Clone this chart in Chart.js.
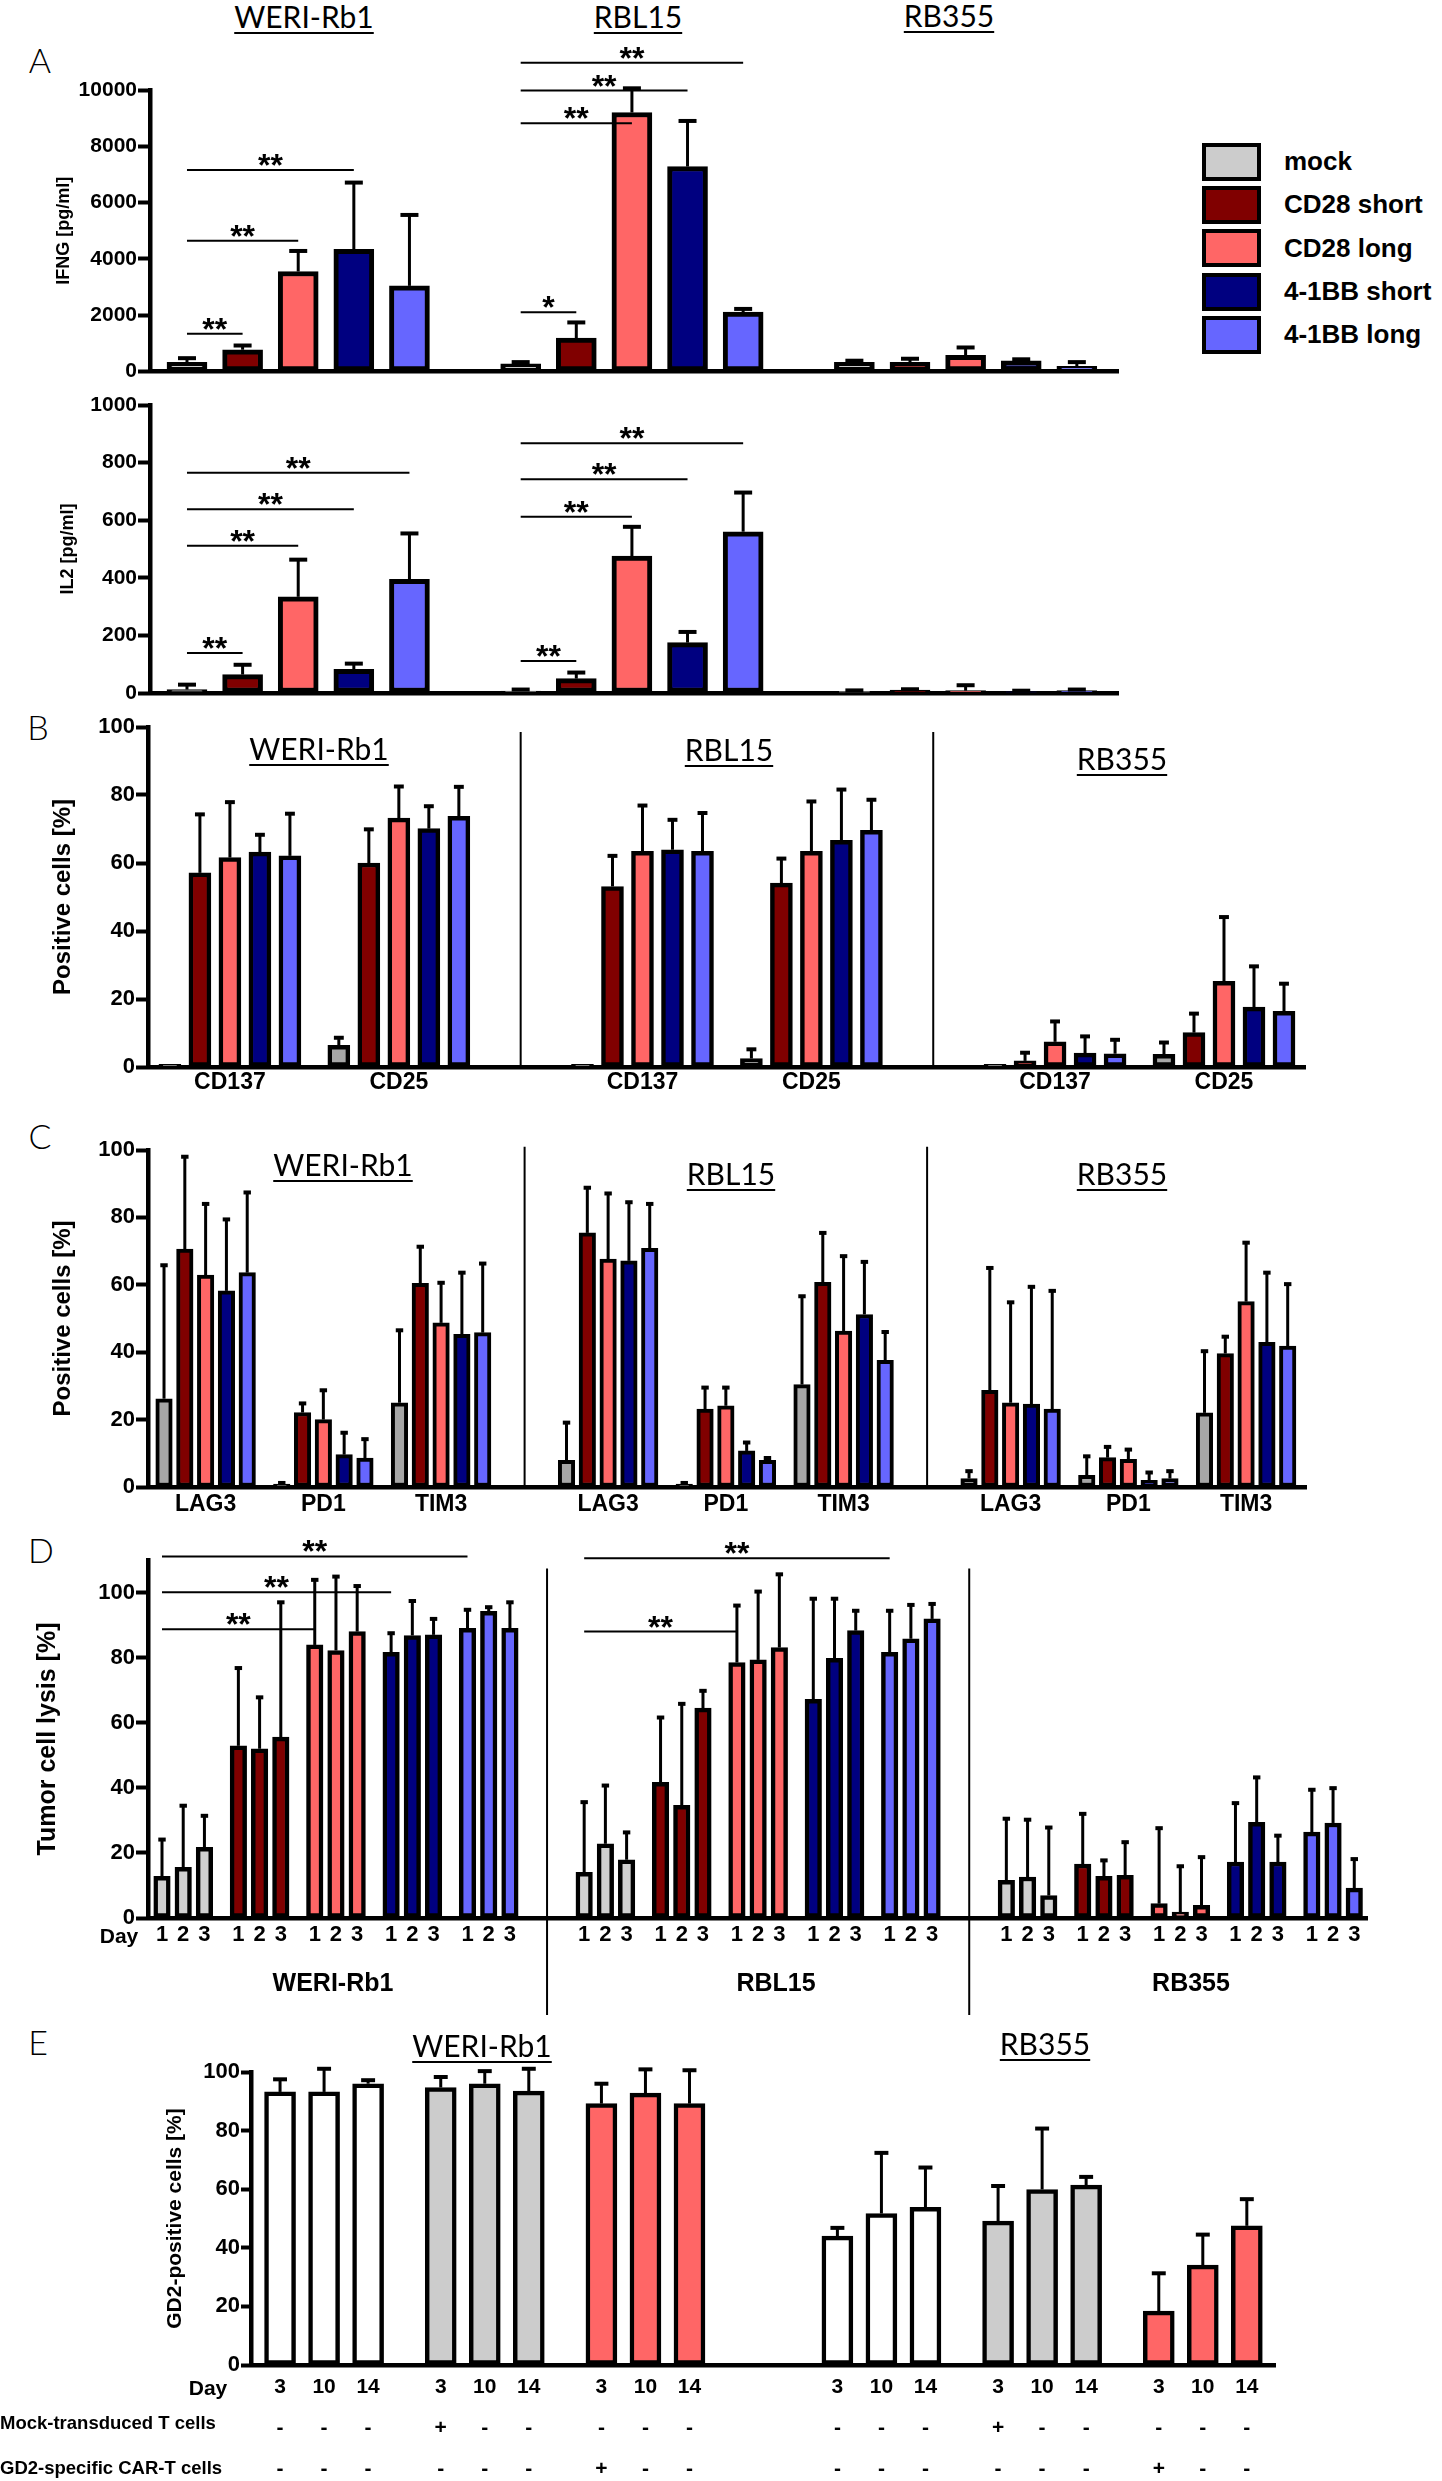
<!DOCTYPE html>
<html lang="en">
<head>
<meta charset="UTF-8">
<title>CAR-T cells against retinoblastoma cell lines</title>
<script src="https://cdn.jsdelivr.net/npm/chart.js"></script>
<style>
  body {
    margin: 0;
    background: #fff;
    width: 1442px;
    height: 2481px;
    position: relative;
    overflow: hidden;
    font-family: 'Liberation Sans', Arial, sans-serif;
    color: #000;
  }
  canvas { position: absolute; left: 0; }
  .t { position: absolute; transform: translate(-50%, -50%); white-space: nowrap; line-height: 1; }
  .tl { position: absolute; transform: translate(0, -50%); white-space: nowrap; line-height: 1; }
  .cell {
    font-family: Lato, 'Liberation Sans', sans-serif;
    font-size: 30px;
    text-decoration: underline;
    text-decoration-thickness: 2px;
    text-underline-offset: 4px;
  }
  .letter { font-family: Lato, 'Liberation Sans', sans-serif; font-weight: 300; font-size: 34px; }
  .lab { font-weight: bold; }
  #legend { position: absolute; left: 1202px; top: 140px; }
  #legend div { display: flex; align-items: center; height: 43.3px; font-weight: bold; font-size: 26px; }
  #legend span { box-sizing: border-box; width: 59px; height: 38px; border: 4px solid #000; margin-right: 23px; }
</style>
</head>
<body>
  <div class="t cell" style="left:304px; top:16px">WERI-Rb1</div>
  <div class="t cell" style="left:638px; top:16px">RBL15</div>
  <div class="t cell" style="left:949px; top:15px">RB355</div>

  <div class="t letter" style="left:40px; top:60px">A</div>
  <div class="t letter" style="left:38px; top:727px">B</div>
  <div class="t letter" style="left:40px; top:1136px">C</div>
  <div class="t letter" style="left:41px; top:1550px">D</div>
  <div class="t letter" style="left:38px; top:2042px">E</div>

  <div id="legend"></div>

  <canvas id="ifngChart"></canvas>
  <canvas id="il2Chart"></canvas>
  <canvas id="activationChart"></canvas>
  <canvas id="exhaustionChart"></canvas>
  <canvas id="lysisChart"></canvas>
  <canvas id="gd2Chart"></canvas>

  <div class="t cell" style="left:319px; top:748px">WERI-Rb1</div>
  <div class="t cell" style="left:729px; top:749px">RBL15</div>
  <div class="t cell" style="left:1122px; top:758px">RB355</div>

  <div class="t cell" style="left:343px; top:1164px">WERI-Rb1</div>
  <div class="t cell" style="left:731px; top:1173px">RBL15</div>
  <div class="t cell" style="left:1122px; top:1173px">RB355</div>

  <div class="t lab" style="left:119px; top:1935px; font-size:21px">Day</div>
  <div class="t lab" style="left:333px; top:1982px; font-size:25px">WERI-Rb1</div>
  <div class="t lab" style="left:776px; top:1982px; font-size:25px">RBL15</div>
  <div class="t lab" style="left:1191px; top:1982px; font-size:25px">RB355</div>

  <div class="t cell" style="left:482px; top:2045px">WERI-Rb1</div>
  <div class="t cell" style="left:1045px; top:2043px">RB355</div>

  <div class="t lab" style="left:208px; top:2387px; font-size:21px">Day</div>
  <div class="tl lab" style="left:0px; top:2423px; font-size:18.5px">Mock-transduced T cells</div>
  <div class="tl lab" style="left:0px; top:2468px; font-size:18.5px">GD2-specific CAR-T cells</div>

<script>
const cellLines = ['WERI-Rb1', 'RBL15', 'RB355'];
const carSeries = ['mock', 'CD28 short', 'CD28 long', '4-1BB short', '4-1BB long'];

// A: cytokines [pg/ml], rows = carSeries, columns = cellLines
const ifngValues = [
    [320, 270, 320],
    [770, 1180, 320],
    [3550, 9200, 570],
    [4340, 7280, 380],
    [3040, 2110, 180]
];
const ifngErrors = [
    [150, 60, 60],
    [150, 560, 130],
    [730, 860, 280],
    [2370, 1620, 50],
    [2520, 110, 150]
];
const ifngTicks = [0, 2000, 4000, 6000, 8000, 10000];
// [from series, to series, column, height, label]
const ifngSig = [
    [0, 1, 0, 1340, '**'], [0, 2, 0, 4640, '**'], [0, 3, 0, 7160, '**'],
    [0, 1, 1, 2100, '*'], [0, 2, 1, 8820, '**'], [0, 3, 1, 9980, '**'], [0, 4, 1, 10970, '**']
];

const il2Values = [
    [12, 7, 6],
    [64, 50, 10],
    [334, 475, 8],
    [82, 175, 5],
    [395, 560, 8]
];
const il2Errors = [
    [17, 5, 3],
    [34, 21, 3],
    [129, 102, 19],
    [20, 37, 3],
    [159, 136, 4]
];
const il2Ticks = [0, 200, 400, 600, 800, 1000];
const il2Sig = [
    [0, 1, 0, 139, '**'], [0, 2, 0, 511, '**'], [0, 3, 0, 638, '**'], [0, 4, 0, 765, '**'],
    [0, 1, 1, 111, '**'], [0, 2, 1, 612, '**'], [0, 3, 1, 742, '**'], [0, 4, 1, 867, '**']
];

// B: activation markers, columns = cell line x marker
const activationMarkers = ['CD137', 'CD25'];
const activationValues = [
    [0.8, 6.4, 0.8, 2.5, 0.8, 3.7],
    [57.1, 60.0, 53.1, 54.1, 1.8, 10.1],
    [61.6, 73.2, 63.4, 63.4, 7.4, 25.2],
    [63.2, 70.1, 63.9, 66.7, 4.1, 17.6],
    [62.1, 73.7, 63.4, 69.6, 3.9, 16.4]
];
const activationErrors = [
    [0, 2.2, 0, 2.7, 0, 3.5],
    [17.2, 9.9, 9.0, 7.2, 2.4, 5.6],
    [16.3, 9.3, 13.5, 14.7, 6.0, 18.9],
    [5.1, 6.6, 8.8, 14.9, 4.9, 12.0],
    [12.4, 8.7, 11.3, 9.0, 4.1, 8.1]
];

// C: exhaustion markers, columns = cell line x marker
const exhaustionMarkers = ['LAG3', 'PD1', 'TIM3'];
const exhaustionValues = [
    [26.2, 0.9, 25.0, 7.9, 0.9, 30.4, 2.5, 3.5, 22.0],
    [70.6, 22.1, 60.4, 75.4, 23.1, 60.7, 28.7, 8.7, 39.6],
    [62.9, 20.0, 48.7, 67.6, 24.1, 46.3, 25.0, 8.2, 55.0],
    [58.2, 9.6, 45.3, 67.1, 10.7, 51.2, 24.6, 2.0, 42.9],
    [63.6, 8.6, 45.8, 70.8, 7.9, 37.6, 23.1, 2.5, 41.8]
];
const exhaustionErrors = [
    [39.6, 0.3, 21.5, 11.2, 0.3, 26.2, 2.2, 5.6, 18.3],
    [27.4, 2.7, 10.9, 13.4, 6.4, 14.7, 36.3, 3.2, 5.0],
    [21.1, 8.7, 11.9, 19.5, 5.4, 22.2, 29.8, 2.9, 17.5],
    [21.2, 6.5, 18.3, 17.4, 2.5, 15.6, 34.8, 2.3, 20.7],
    [23.8, 5.6, 20.5, 13.2, 0.7, 8.4, 35.1, 2.2, 18.4]
];
const percentTicks = [0, 20, 40, 60, 80, 100];

// D: tumor cell lysis, columns = cell line x day
const lysisDays = ['1', '2', '3'];
const lysisValues = [
    [12.8, 15.6, 21.7, 14.0, 22.8, 17.9, 11.6, 12.6, 6.9],
    [52.9, 52.0, 55.6, 41.7, 34.6, 64.5, 16.6, 12.8, 13.1],
    [83.9, 82.2, 88.0, 78.5, 79.3, 83.1, 4.4, 1.8, 3.9],
    [81.6, 86.8, 87.0, 67.2, 79.8, 88.3, 17.2, 29.4, 17.2],
    [89.0, 94.2, 89.0, 81.6, 85.8, 91.9, 26.4, 29.2, 9.2]
];
const lysisErrors = [
    [11.3, 18.9, 9.7, 21.6, 17.9, 8.4, 18.9, 17.6, 20.9],
    [23.9, 15.8, 41.4, 19.9, 31.2, 5.3, 15.4, 4.9, 10.2],
    [20.0, 22.7, 14.0, 17.5, 21.0, 22.5, 23.2, 14.1, 14.8],
    [5.9, 10.6, 4.9, 30.9, 18.3, 6.1, 18.1, 13.8, 8.1],
    [5.7, 1.3, 8.0, 12.8, 10.4, 4.6, 13.0, 10.7, 8.9]
];
const lysisSig = [
    [0, 4, 0, 111.1, '**'], [0, 3, 0, 100.1, '**'], [0, 2, 0, 88.7, '**'],
    [0, 4, 3, 110.5, '**'], [0, 2, 3, 88.0, '**']
];

// E: GD2-positive tumor cells, rows = untreated / mock T cells / CAR-T cells, columns = cell line x day
const gd2Lines = ['WERI-Rb1', 'RB355'];
const gd2Days = ['3', '10', '14'];
const gd2Values = [
    [93.2, 93.2, 96.0, 44.0, 51.7, 53.8],
    [94.7, 96.0, 93.5, 49.1, 59.9, 61.4],
    [89.2, 92.8, 89.2, 18.4, 34.1, 47.5]
];
const gd2Errors = [
    [4.3, 7.9, 1.2, 2.8, 20.7, 13.6],
    [3.6, 4.3, 7.6, 12.0, 20.8, 2.8],
    [6.8, 8.1, 11.4, 12.9, 10.4, 9.1]
];
const mockRow = ['-', '-', '-', '+', '-', '-', '-', '-', '-'];
const carRow = ['-', '-', '-', '-', '-', '-', '+', '-', '-'];

const W = 1442;
const carColors = ['#cccccc', '#800000', '#ff6666', '#000080', '#6666ff'];

Chart.defaults.font.family = "'Liberation Sans', Arial, sans-serif";
Chart.defaults.color = '#000';

// legend
const legend = document.getElementById('legend');
carSeries.forEach((name, i) => {
    const row = document.createElement('div');
    row.innerHTML = '<span style="background:' + carColors[i] + '"></span>' + name;
    legend.appendChild(row);
});

// error bars, significance lines and section dividers
const extras = {
    id: 'extras',
    afterDraw(chart, args, opt) {
        const ctx = chart.ctx, ys = chart.scales.y, xs = chart.scales.x, area = chart.chartArea;
        ctx.save();
        ctx.strokeStyle = '#000';
        ctx.fillStyle = '#000';
        opt.dividers.forEach(d => {
            const x = xs.getPixelForValue(d.at);
            ctx.lineWidth = 2;
            ctx.beginPath();
            ctx.moveTo(x, ys.getPixelForValue(d.from));
            ctx.lineTo(x, area.bottom + d.below);
            ctx.stroke();
        });
        chart.data.datasets.forEach((ds, di) => {
            chart.getDatasetMeta(di).data.forEach((bar, i) => {
                const sd = ds.sd[i];
                if (!sd) return;
                const top = ys.getPixelForValue(ds.data[i].y + sd);
                const half = bar.width * opt.cap / 2;
                ctx.lineWidth = opt.errLine;
                ctx.beginPath();
                ctx.moveTo(bar.x, bar.y);
                ctx.lineTo(bar.x, top);
                ctx.stroke();
                ctx.lineWidth = opt.capLine;
                ctx.beginPath();
                ctx.moveTo(bar.x - half, top);
                ctx.lineTo(bar.x + half, top);
                ctx.stroke();
            });
        });
        ctx.font = "bold 32px 'Liberation Sans', Arial, sans-serif";
        ctx.textAlign = 'center';
        ctx.textBaseline = 'alphabetic';
        opt.sig.forEach(([a, b, col, h, label]) => {
            const x1 = chart.getDatasetMeta(a).data[col].x;
            const x2 = chart.getDatasetMeta(b).data[col].x;
            const y = ys.getPixelForValue(h);
            ctx.lineWidth = 2;
            ctx.beginPath();
            ctx.moveTo(x1, y);
            ctx.lineTo(x2, y);
            ctx.stroke();
            const m = ctx.measureText(label);
            ctx.fillText(label, (x1 + x2) / 2, y - 4 - m.actualBoundingBoxDescent);
        });
        ctx.restore();
    }
};

function build(id, cfg) {
    const cv = document.getElementById(id);
    cv.width = W;
    cv.height = cfg.bottom - cfg.top;
    cv.style.top = cfg.top + 'px';
    const padL = cfg.titleX - 0.6 * cfg.titleSize;
    const datasets = cfg.values.map((vals, s) => ({
        data: vals.map((v, j) => ({ x: cfg.pos(s, j), y: v })),
        sd: cfg.errors[s],
        backgroundColor: cfg.colors[s],
        borderColor: '#000',
        borderWidth: cfg.border,
        borderSkipped: false,
        barThickness: cfg.barW,
        grouped: false,
        clip: false
    }));
    const xt = cfg.xTicks;
    const xScale = {
        type: 'linear',
        min: cfg.xMin,
        max: cfg.xMax,
        offset: false,
        grid: { display: false, drawTicks: false, offset: false },
        border: { display: true, color: '#000', width: 4.5 },
        afterFit: s => { s.height = cfg.bottom - cfg.plot.b; },
        ticks: { display: false }
    };
    if (xt) {
        xScale.afterBuildTicks = s => { s.ticks = xt.pos.map(v => ({ value: v })); };
        xScale.ticks = {
            display: true, autoSkip: false, maxRotation: 0, minRotation: 0,
            padding: xt.pad, color: '#000',
            font: { weight: 'bold', size: xt.size, lineHeight: xt.lineHeight || 1.2 },
            callback: (v, i) => xt.labels[i]
        };
    }
    return new Chart(cv, {
        type: 'bar',
        data: { datasets },
        options: {
            responsive: false,
            animation: false,
            events: [],
            layout: { padding: { left: padL, top: cfg.plot.t - cfg.top, right: W - cfg.plot.r, bottom: 0 } },
            plugins: {
                legend: { display: false },
                tooltip: { enabled: false },
                extras: { sig: cfg.sig || [], dividers: cfg.dividers || [], cap: 0.45, errLine: 3, capLine: 4 }
            },
            scales: {
                x: xScale,
                y: {
                    min: 0,
                    max: cfg.yMax,
                    afterBuildTicks: s => { s.ticks = cfg.yTicks.map(v => ({ value: v })); },
                    afterFit: s => { s.width = cfg.plot.l - padL; },
                    grid: { display: true, drawOnChartArea: false, drawTicks: true, tickLength: cfg.tickLen || 12, tickWidth: 4, tickColor: '#000' },
                    border: { display: true, color: '#000', width: 4.5 },
                    ticks: { padding: cfg.tickPad || 1, color: '#000', font: { weight: 'bold', size: cfg.tickSize || 22 }, callback: v => String(v) },
                    title: { display: true, text: cfg.title, color: '#000', padding: 0, font: { weight: 'bold', size: cfg.titleSize } }
                }
            }
        },
        plugins: [extras]
    });
}

// section layouts (in bar-pitch units)
const posA = (s, j) => j * 6 + s;
const posB = (s, j) => Math.floor(j / 2) * 13.75 + (j % 2) * 5.63 + s;
const posC = (s, j) => Math.floor(j / 3) * 19.35 + (j % 3) * 5.66 + s;
const posD = (s, j) => Math.floor(j / 3) * 19.9 + s * 3.6 + (j % 3);
const posE = (g, j) => Math.floor(j / 3) * 12.66 + g * 3.65 + (j % 3);

function between(pos, lastCol, firstCol) {
    return (pos(4, lastCol) + pos(0, firstCol)) / 2;
}

build('ifngChart', {
    top: 30, bottom: 385, plot: { l: 150, t: 90, r: 1118, b: 372 },
    xMin: -0.665, xMax: 16.74, yMax: 10000, yTicks: ifngTicks, tickSize: 21,
    title: 'IFNG [pg/ml]', titleX: 64, titleSize: 18,
    values: ifngValues, errors: ifngErrors, colors: carColors, pos: posA,
    barW: 40, border: 5, sig: ifngSig
});

build('il2Chart', {
    top: 380, bottom: 712, plot: { l: 150, t: 405, r: 1118, b: 693 },
    xMin: -0.665, xMax: 16.74, yMax: 1000, yTicks: il2Ticks, tickSize: 21,
    title: 'IL2 [pg/ml]', titleX: 68, titleSize: 18,
    values: il2Values, errors: il2Errors, colors: carColors, pos: posA,
    barW: 40, border: 5, sig: il2Sig
});

const actCols = cellLines.flatMap((c, l) => activationMarkers.map((m, k) => l * 2 + k));
build('activationChart', {
    top: 700, bottom: 1110, plot: { l: 148, t: 727, r: 1305, b: 1067 },
    xMin: -0.73, xMax: 37.83, yMax: 100, yTicks: percentTicks,
    title: 'Positive cells [%]', titleX: 63, titleSize: 24,
    values: activationValues, errors: activationErrors,
    colors: ['#a6a6a6'].concat(carColors.slice(1)), pos: posB,
    barW: 22, border: 4.5,
    xTicks: { pos: actCols.map(j => posB(2, j)), labels: actCols.map(j => activationMarkers[j % 2]), size: 23, pad: 2 },
    dividers: [1, 2].map(l => ({ at: between(posB, l * 2 - 1, l * 2), from: 98.5, below: 0 }))
});

const exhCols = cellLines.flatMap((c, l) => exhaustionMarkers.map((m, k) => l * 3 + k));
build('exhaustionChart', {
    top: 1100, bottom: 1530, plot: { l: 148, t: 1150, r: 1306, b: 1487 },
    xMin: -0.77, xMax: 54.9, yMax: 100, yTicks: percentTicks,
    title: 'Positive cells [%]', titleX: 63, titleSize: 24,
    values: exhaustionValues, errors: exhaustionErrors,
    colors: ['#a6a6a6'].concat(carColors.slice(1)), pos: posC,
    barW: 16.5, border: 4,
    xTicks: { pos: exhCols.map(j => posC(2, j)), labels: exhCols.map(j => exhaustionMarkers[j % 3]), size: 23, pad: 4 },
    dividers: [1, 2].map(l => ({ at: between(posC, l * 3 - 1, l * 3), from: 101, below: 0 }))
});

const lysisTickPos = [], lysisTickLabels = [];
for (let l = 0; l < 3; l++) {
    for (let s = 0; s < 5; s++) {
        for (let d = 0; d < 3; d++) {
            lysisTickPos.push(posD(s, l * 3 + d));
            lysisTickLabels.push(lysisDays[d]);
        }
    }
}
build('lysisChart', {
    top: 1520, bottom: 2025, plot: { l: 148, t: 1560, r: 1367, b: 1918 },
    xMin: -0.66, xMax: 56.8, yMax: 110, yTicks: percentTicks,
    title: 'Tumor cell lysis [%]', titleX: 48, titleSize: 25,
    values: lysisValues, errors: lysisErrors,
    colors: ['#d0d0d0'].concat(carColors.slice(1)), pos: posD,
    barW: 16.5, border: 4.5, sig: lysisSig,
    xTicks: { pos: lysisTickPos, labels: lysisTickLabels, size: 22, pad: 4 },
    dividers: [1, 2].map(l => ({ at: between(posD, l * 3 - 1, l * 3), from: 107.4, below: 97 }))
});

const gd2TickPos = [], gd2TickLabels = [];
for (let l = 0; l < gd2Lines.length; l++) {
    for (let g = 0; g < 3; g++) {
        for (let d = 0; d < 3; d++) {
            gd2TickPos.push(posE(g, l * 3 + d));
            gd2TickLabels.push([gd2Days[d], mockRow[g * 3 + d], carRow[g * 3 + d]]);
        }
    }
}
build('gd2Chart', {
    top: 2020, bottom: 2481, plot: { l: 251, t: 2072, r: 1275, b: 2365 },
    xMin: -0.66, xMax: 22.6, yMax: 100, yTicks: percentTicks, tickLen: 10, tickPad: 0,
    title: 'GD2-positive cells [%]', titleX: 175, titleSize: 21,
    values: gd2Values, errors: gd2Errors,
    colors: ['#ffffff', '#cccccc', '#ff6666'], pos: posE,
    barW: 31, border: 4.5,
    xTicks: { pos: gd2TickPos, labels: gd2TickLabels, size: 21, pad: 1.5, lineHeight: 41 / 21 }
});
</script>
</body>
</html>
